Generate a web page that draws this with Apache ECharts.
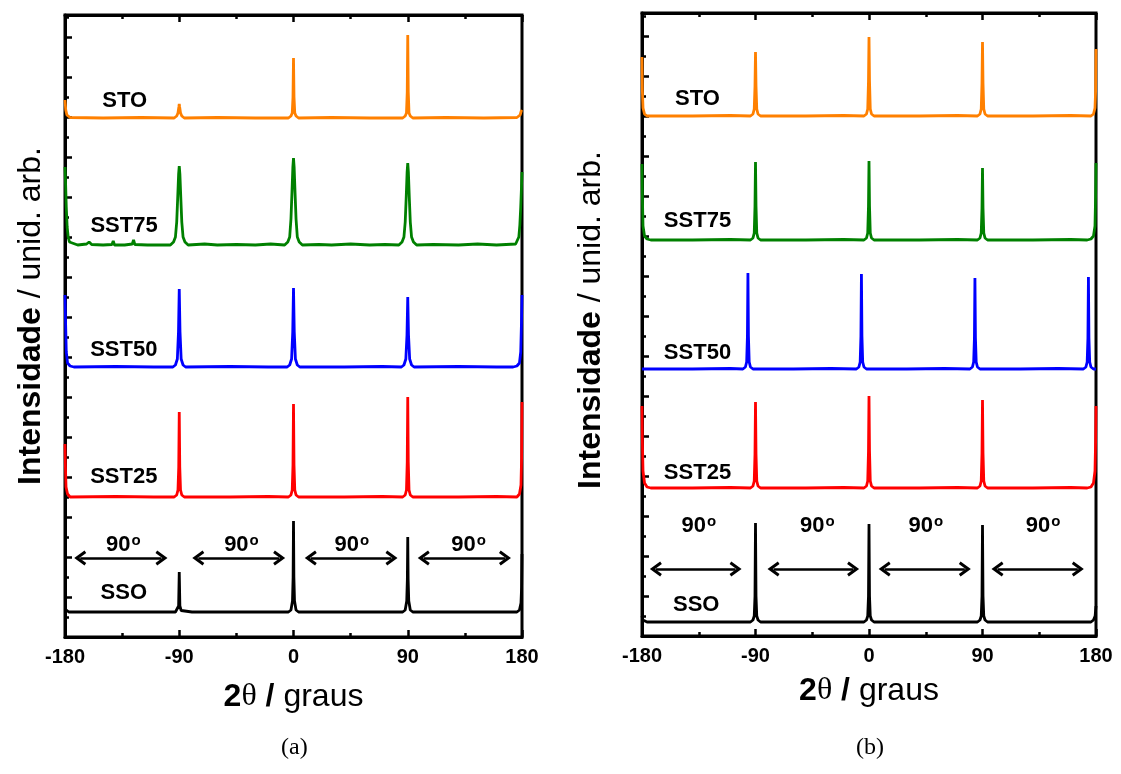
<!DOCTYPE html>
<html>
<head>
<meta charset="utf-8">
<script src="https://cdn.jsdelivr.net/npm/echarts@6/dist/echarts.min.js"></script>
<style>
html,body{margin:0;padding:0;background:#fff;}
#main{width:1121px;height:774px;}
</style>
</head>
<body>
<div id="main"></div>
<script>
// ---------------- DATA ----------------
const xTickLabels = ['-180', '-90', '0', '90', '180'];
const seriesNames = ['STO', 'SST75', 'SST50', 'SST25', 'SSO'];
const seriesColors = ['#FF8000', '#008000', '#0000FF', '#FF0000', '#000000'];

// Panel (a): phi scans, 2theta (deg) vs intensity (arb. units, offset stack)
const aSTO = [
  [-180,537],[-179.4,527],[-178.5,522],[-176,519.5],[-150,519],[-120,519.5],
  [-94,519],[-92,521],[-91,524],[-90.3,530],[-90,533],[-89.7,530],[-89,524],[-88,521],[-86,519],
  [-60,519.5],[-30,519],
  [-4,519],[-2,521],[-1,524],[-0.4,540],[0,579],[0.4,540],[1,524],[2,521],[4,519],
  [30,519.5],[60,519],
  [86,519],[88,521],[89,524],[89.6,545],[90,602],[90.4,545],[91,524],[92,521],[94,519],
  [120,519.5],[150,519],
  [176,519.5],[178.5,522],[179.4,526],[180,527]
];
const aSST75 = [
  [-180,470],[-179.5,452],[-179,430],[-178.3,410],[-177.5,400],[-176.5,395],[-175,393],
  [-170,392],[-163,393],[-161,395],[-159,392.5],[-150,392],[-143,392.5],[-142,396],[-141,392],
  [-133,392],[-127,393],[-126,397],[-125,392.5],[-115,392],
  [-97,392],[-94.5,395],[-93,400],[-92,415],[-91.2,440],[-90.5,463],[-90,471],[-89.5,463],[-88.8,440],[-88,415],[-87,400],[-85.5,395],[-83,392],
  [-70,393],[-60,392],[-45,392.5],[-30,392],[-18,393],
  [-7,392],[-4.5,395],[-3,400],[-2,418],[-1.2,445],[-0.5,470],[0,479],[0.5,470],[1.2,445],[2,418],[3,400],[4.5,395],[7,392],
  [20,392.5],[30,392],[45,393],[60,392],[72,392.5],
  [83,392],[85.5,395],[87,400],[88,415],[88.8,440],[89.5,465],[90,474],[90.5,465],[91.2,440],[92,415],[93,400],[94.5,395],[97,392],
  [110,392.5],[130,392],[145,393],[160,392],
  [175,393],[176.5,395],[177.5,400],[178.3,412],[179,430],[179.6,450],[180,465]
];
const aSST50 = [
  [-180,342],[-179.6,318],[-179,285],[-178,274],[-176,271],[-173,270],[-140,270.5],[-110,270],
  [-95,270],[-93,272],[-91.5,278],[-90.6,305],[-90,348],[-89.4,305],[-88.5,278],[-87,272],[-85,270],
  [-50,270.5],[-20,270],
  [-5,270],[-3,272],[-1.5,278],[-0.6,305],[0,349],[0.6,305],[1.5,278],[3,272],[5,270],
  [40,270],[70,270.5],
  [85,270],[87,272],[88.5,278],[89.4,302],[90,340],[90.6,302],[91.5,278],[93,272],[95,270],
  [130,270.5],[160,270],
  [173,270],[176,271],[178,274],[179,285],[179.6,315],[180,342]
];
const aSST25 = [
  [-180,193],[-179.7,172],[-179.2,150],[-178,143],[-176,140],[-140,140.5],[-110,140],
  [-94,140],[-92,142],[-91,147],[-90.4,170],[-90,225],[-89.6,170],[-89,147],[-88,142],[-86,140],
  [-50,140],[-20,140.5],
  [-4,140],[-2,142],[-1,147],[-0.4,172],[0,233],[0.4,172],[1,147],[2,142],[4,140],
  [40,140],[70,140.5],
  [86,140],[88,142],[89,147],[89.6,175],[90,240],[90.4,175],[91,147],[92,142],[94,140],
  [130,140],[160,140.5],
  [176,140],[178,143],[179.2,152],[179.7,180],[180,235]
];
const aSSO = [
  [-180,28],[-179,26],[-177,25],[-140,25],[-110,25],
  [-93,25],[-91.5,26.5],[-90.5,31],[-90,65],[-89.5,31],[-88.5,26.5],[-87,25],[-80,25],
  [-50,25],[-20,25],
  [-4,25],[-2,27],[-0.8,36],[-0.3,60],[0,116],[0.3,60],[0.8,36],[2,27],[4,25],
  [40,25],[70,25],
  [86,25],[88,27],[89.2,36],[89.7,58],[90,100],[90.3,58],[90.8,36],[92,27],[94,25],
  [130,25],[160,25],
  [176,25],[178,27],[179.2,34],[179.7,50],[180,83]
];

// Panel (b)
const bSTO = [
  [-180,579],[-179.7,545],[-179.2,528],[-178,522],[-176,520],[-140,520],[-110,520.5],
  [-94,520],[-92,522],[-91,527],[-90.4,550],[-90,584],[-89.6,550],[-89,527],[-88,522],[-86,520],
  [-50,520],[-20,520.5],
  [-4,520],[-2,522],[-1,527],[-0.4,555],[0,599],[0.4,555],[1,527],[2,522],[4,520],
  [40,520],[70,520.5],
  [86,520],[88,522],[89,527],[89.6,553],[90,594],[90.4,553],[91,527],[92,522],[94,520],
  [130,520],[160,520.5],
  [176,520],[178,522],[179.2,528],[179.7,545],[180,587]
];
const bSST75 = [
  [-180,472],[-179.7,440],[-179.2,410],[-178,400],[-176,397],[-173,396],[-140,396],[-110,396.5],
  [-94,396],[-92,398],[-91,403],[-90.4,430],[-90,474],[-89.6,430],[-89,403],[-88,398],[-86,396],
  [-50,396],[-20,396.5],
  [-4,396],[-2,398],[-1,403],[-0.4,430],[0,475],[0.4,430],[1,403],[2,398],[4,396],
  [40,396],[70,396.5],
  [86,396],[88,398],[89,403],[89.6,428],[90,468],[90.4,428],[91,403],[92,398],[94,396],
  [130,396],[160,396.5],
  [173,396],[176,397],[178,400],[179.2,410],[179.7,440],[180,473]
];
const bSST50 = [
  [-180,267],[-140,267],[-110,267.5],
  [-100,267],[-98,269],[-97,274],[-96.4,300],[-96,363],[-95.6,300],[-95,274],[-94,269],[-92,267],
  [-60,267],[-30,267.5],
  [-10,267],[-8,269],[-7,274],[-6.4,300],[-6,362],[-5.6,300],[-5,274],[-4,269],[-2,267],
  [30,267],[60,267.5],
  [80,267],[82,269],[83,274],[83.6,298],[84,358],[84.4,298],[85,274],[86,269],[88,267],
  [120,267],[150,267.5],
  [170,267],[172,269],[173,274],[173.6,298],[174,359],[174.4,298],[175,274],[176,269],[178,267],[180,267]
];
const bSST25 = [
  [-180,230],[-179.7,195],[-179.2,165],[-178,153],[-176,149],[-173,148],[-140,148],[-110,148.5],
  [-94,148],[-92,150],[-91,155],[-90.4,182],[-90,234],[-89.6,182],[-89,155],[-88,150],[-86,148],
  [-50,148],[-20,148.5],
  [-4,148],[-2,150],[-1,155],[-0.4,185],[0,240],[0.4,185],[1,155],[2,150],[4,148],
  [40,148],[70,148.5],
  [86,148],[88,150],[89,155],[89.6,183],[90,236],[90.4,183],[91,155],[92,150],[94,148],
  [130,148],[160,148.5],
  [173,148],[176,149],[178,153],[179.2,165],[179.7,195],[180,230]
];
const bSSO = [
  [-180,20],[-179.3,16],[-178,14.5],[-176,14],[-140,14],[-110,14],
  [-94,14],[-92,16],[-91,20],[-90.4,40],[-90,113],[-89.6,40],[-89,20],[-88,16],[-86,14],
  [-50,14],[-20,14],
  [-4,14],[-2,16],[-1,20],[-0.4,40],[0,112],[0.4,40],[1,20],[2,16],[4,14],
  [40,14],[70,14],
  [86,14],[88,16],[89,20],[89.6,40],[90,111],[90.4,40],[91,20],[92,16],[94,14],
  [130,14],[160,14],
  [176,14],[178,16],[179.3,20],[180,30]
];

// annotation positions (x in degrees, y in same arbitrary units)
const labelPosA = [[-133,536],[-133.5,411],[-133.7,287],[-133.7,160],[-133.7,44]];
const labelPosB = [[-136,537],[-136,415],[-136,283],[-136,163],[-137,31]];
const arrowsA = [[-168,-104],[-75,-11.3],[13.6,77.2],[102.6,166.6]];
const arrowYA = 79;
const arrowLabelXA = [-134,-41,46,138];
const arrowLabelYA = 92;
const arrowsB = [[-169,-105.8],[-75.7,-12.6],[12.4,76],[101.9,165.6]];
const arrowYB = 67;
const arrowLabelXB = [-135,-41,45,138];
const arrowLabelYB = 110;

// ---------------- CHART ----------------
const FONT = 'Liberation Sans';
const chart = echarts.init(document.getElementById('main'), null, {renderer: 'canvas'});

const grids = [
  {left: 65, top: 15, width: 457, height: 622},
  {left: 642, top: 13, width: 454, height: 623}
];
const yMax = [622, 623];

function xAxis(gi, pos, main, nameGap) {
  return {
    type: 'value', gridIndex: gi, position: pos, min: -180, max: 180, interval: 90,
    axisLine: {show: true, onZero: false, lineStyle: {color: '#000', width: 3}},
    axisTick: {show: true, inside: true, length: 7, lineStyle: {color: '#000', width: 2.5}},
    minorTick: {show: true, splitNumber: 2, length: 4, lineStyle: {color: '#000', width: 2.5}},
    splitLine: {show: false}, minorSplitLine: {show: false},
    axisLabel: {
      show: main, margin: 10, color: '#000', fontSize: 20, fontWeight: 'bold', fontFamily: FONT,
      showMinLabel: true, showMaxLabel: true,
      formatter: v => xTickLabels[Math.round((v + 180) / 90)]
    },
    name: main ? '{b|2}{t|θ}{b| /}{n| graus}' : '',
    nameLocation: 'middle', nameGap: nameGap,
    nameTextStyle: {
      color: '#000', fontSize: 32, fontFamily: FONT,
      rich: {
        b: {fontSize: 32, fontWeight: 'bold', fontFamily: FONT, color: '#000'},
        t: {fontSize: 32, fontFamily: 'Liberation Serif', color: '#000'},
        n: {fontSize: 32, fontFamily: FONT, color: '#000'}
      }
    }
  };
}
function yAxis(gi, nameGap, shift) {
  return {
    type: 'value', gridIndex: gi, position: 'left', min: 0, max: yMax[gi], interval: 40,
    axisLine: {show: true, onZero: false, lineStyle: {color: '#000', width: 3}},
    axisTick: {show: true, inside: true, length: 7, lineStyle: {color: '#000', width: 2.5}},
    minorTick: {show: true, splitNumber: 2, length: 4, lineStyle: {color: '#000', width: 2.5}},
    splitLine: {show: false}, minorSplitLine: {show: false},
    axisLabel: {show: false},
    name: '{b|Intensidade} {n|/ unid. arb.}',
    nameLocation: 'middle', nameRotate: 90, nameGap: nameGap,
    nameTextStyle: {
      color: '#000', fontSize: 32, fontFamily: FONT, padding: [0, 0, 0, shift],
      rich: {
        b: {fontSize: 32, fontWeight: 'bold', fontFamily: FONT, color: '#000'},
        n: {fontSize: 32, fontFamily: FONT, color: '#000'}
      }
    }
  };
}

const dataA = [aSTO, aSST75, aSST50, aSST25, aSSO];
const dataB = [bSTO, bSST75, bSST50, bSST25, bSSO];

function degLabel(x, y) {
  return {
    coord: [x, y], value: 90, symbol: 'circle', symbolSize: 0,
    label: {
      show: true, position: 'inside', formatter: '{n|90}{d|o}',
      rich: {
        n: {fontSize: 22, fontWeight: 'bold', fontFamily: FONT, color: '#000', lineHeight: 24},
        d: {fontSize: 15, fontWeight: 'bold', fontFamily: FONT, color: '#000', lineHeight: 10, verticalAlign: 'top', padding: [0, 0, 0, 1]}
      }
    }
  };
}
const chevron = 'path://M6,0 L12,9 L10,10.5 L6,4.5 L2,10.5 L0,9 Z';

function makeSeries(data, gi, idx, labelPos, arrows, arrowY, arrowLX, arrowLY) {
  const s = {
    type: 'line', name: seriesNames[idx] + (gi ? ' (b)' : ' (a)'),
    xAxisIndex: gi * 2, yAxisIndex: gi,
    data: data, showSymbol: false, symbol: 'none', smooth: false,
    lineStyle: {color: seriesColors[idx], width: 2.8},
    itemStyle: {color: seriesColors[idx]},
    silent: true, z: 3,
    markPoint: {
      silent: true, animation: false,
      data: [{
        coord: labelPos[idx], value: seriesNames[idx], symbol: 'circle', symbolSize: 0,
        label: {show: true, position: 'inside', formatter: seriesNames[idx],
          color: '#000', fontSize: 22, fontWeight: 'bold', fontFamily: FONT}
      }]
    }
  };
  if (arrows) {
    arrowLX.forEach(x => s.markPoint.data.push(degLabel(x, arrowLY)));
    s.markLine = {
      silent: true, animation: false,
      symbol: [chevron, chevron], symbolSize: [15, 12],
      lineStyle: {color: '#000', width: 2.5, type: 'solid'},
      label: {show: false},
      data: arrows.map(a => [{coord: [a[0], arrowY]}, {coord: [a[1], arrowY]}])
    };
  }
  return s;
}

const series = [];
dataA.forEach((d, i) => series.push(makeSeries(d, 0, i, labelPosA, i === 4 ? arrowsA : null, arrowYA, arrowLabelXA, arrowLabelYA)));
dataB.forEach((d, i) => series.push(makeSeries(d, 1, i, labelPosB, i === 4 ? arrowsB : null, arrowYB, arrowLabelXB, arrowLabelYB)));

chart.setOption({
  animation: false,
  backgroundColor: '#fff',
  grid: grids.map(g => Object.assign({show: true, borderColor: '#000', borderWidth: 3, backgroundColor: 'transparent', containLabel: false}, g)),
  xAxis: [xAxis(0, 'bottom', true, 44), xAxis(0, 'top', false, 0), xAxis(1, 'bottom', true, 39), xAxis(1, 'top', false, 0)],
  yAxis: [yAxis(0, 18, 20), yAxis(1, 35, 9)],
  series: series,
  graphic: [
    {type: 'text', left: 281, top: 736, style: {text: '(a)', font: '24px "Liberation Serif"', fill: '#000'}},
    {type: 'text', left: 856, top: 736, style: {text: '(b)', font: '24px "Liberation Serif"', fill: '#000'}}
  ]
});
</script>
</body>
</html>
